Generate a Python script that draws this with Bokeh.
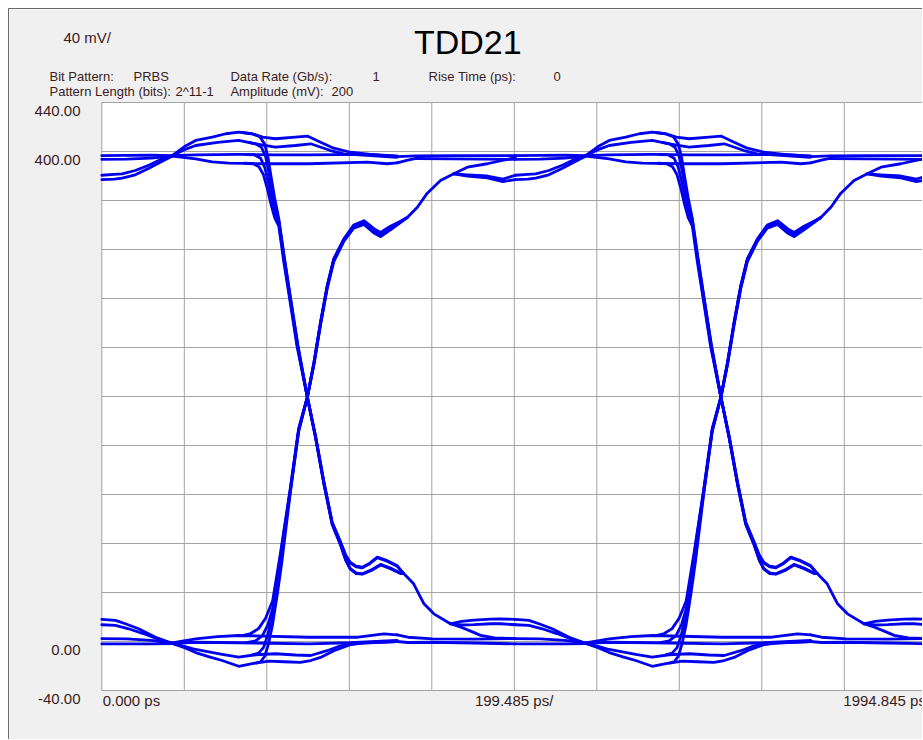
from bokeh.plotting import figure
from bokeh.models import Label
from bokeh.embed import file_html
from bokeh.resources import INLINE

# ---------------- axis definition (instrument settings) ----------------
X_DIV_PS = 199.485
X_FULL_PS = 1994.845
X_GRID_PS = [k * X_DIV_PS for k in range(11)]
Y_MIN, Y_MAX, Y_DIV = -40, 440, 40
Y_GRID_MV = list(range(Y_MIN, Y_MAX + 1, Y_DIV))
Y_LABEL_TICKS = [440, 400, 0, -40]
UI_PS = 1000          # 1 Gb/s -> one bit = 1000 ps
UI_COPIES = [0, 1]    # eye repeats every UI

TITLE = "TDD21"
SCALE_TXT = "40 mV/"
HEADER_ROW1 = [("Bit Pattern:", -126.5), ("PRBS", 76.7), ("Data Rate (Gb/s):", 311.0),
               ("1", 654.5), ("Rise Time (ps):", 790.0), ("0", 1092.0)]
HEADER_ROW2 = [("Pattern Length (bits):", -126.5), ("2^11-1", 178.0),
               ("Amplitude (mV):", 311.0), ("200", 555.4)]
X_LABELS = [("0.000 ps", 2.0, "left"), ("199.485 ps/", 997.0, "center"),
            ("1994.845 ps", 1793.0, "left")]

# ---------------- digitised trace pieces (time ps, mV) within one UI ----------------
# high level, before the knot
top_left_1 = [(0, 396.7), (60, 396.9), (120, 397.0), (170, 396.6)]
top_left_2 = [(0, 393.5), (60, 393.8), (120, 394.6), (170, 396.2)]
top_left_3 = [(0, 380.6), (30, 381.3), (49, 381.8), (81, 384.5), (115, 389.0), (146, 394.0), (170, 396.6)]
top_left_4 = [(0, 377.1), (30, 377.5), (49, 378.3), (81, 381.0), (115, 386.5), (146, 392.0), (170, 396.2)]
# high level, after the knot
top_mid_a = [(170, 396.6), (200, 404.0), (227, 409.0), (267, 411.7), (300, 414.5), (331, 415.8), (364, 414.5),
             (389, 411.7), (420, 410.4), (468, 411.7), (497, 412.6), (529, 407.6), (561, 402.7), (601, 399.4),
             (650, 397.6), (714, 395.9)]
top_mid_b = [(170, 396.6), (200, 401.5), (227, 404.9), (280, 407.5), (331, 409.0), (372, 406.3), (420, 403.5),
             (468, 404.9), (505, 406.3), (553, 400.8), (585, 398.1), (650, 396.7), (714, 395.3)]
top_mid_c = [(170, 396.6), (227, 397.3), (331, 397.6), (420, 397.2), (501, 397.3), (642, 397.6), (714, 396.4)]
top_mid_d = [(170, 396.2), (227, 394.0), (267, 391.5), (307, 390.5), (400, 390.0), (501, 390.0), (642, 391.3),
             (690, 390.0), (714, 390.8)]
top_right_1 = [(714, 395.9), (760, 396.5), (850, 396.7), (1000, 396.7)]
top_right_2 = [(714, 390.8), (740, 393.0), (760, 394.3), (850, 394.0), (1000, 393.5)]

# low level
bot_left_1 = [(0, 18.0), (33, 17.2), (57, 14.5), (89, 10.4), (130, 3.5), (170, -1.5)]
bot_left_2 = [(0, 13.7), (33, 13.1), (65, 10.4), (100, 6.5), (140, 1.5), (170, -1.5)]
bot_left_3 = [(0, 2.4), (60, 2.2), (120, 1.0), (170, -1.2)]
bot_left_4 = [(0, -1.9), (60, -1.9), (120, -1.9), (170, -1.8)]
bot_mid_a = [(170, -1.5), (200, -5.0), (227, -9.0), (260, -12.5), (291, -15.5), (331, -20.2), (364, -18.0),
             (404, -16.0), (440, -16.5), (480, -17.0), (505, -15.5), (529, -13.0), (561, -7.5), (601, -2.5),
             (634, -1.0), (714, 0.0)]
bot_mid_b = [(170, -1.5), (200, -4.0), (227, -6.5), (291, -10.5), (331, -12.8), (372, -10.8), (420, -10.0),
             (468, -11.0), (505, -11.4), (545, -7.5), (577, -3.5), (620, -1.5), (714, 0.0)]
bot_mid_c = [(170, -1.5), (227, -0.6), (331, -1.0), (501, -1.9), (600, -1.0), (714, 1.0)]
bot_mid_d = [(170, -1.2), (227, 2.2), (280, 4.0), (331, 4.9), (501, 3.5), (620, 3.5), (682, 6.3), (714, 5.5)]
bot_right_1 = [(714, 5.5), (740, 3.5), (800, 2.2), (900, 2.0), (1000, 2.4)]
bot_right_2 = [(714, 0.0), (740, -0.8), (800, -0.6), (900, -1.2), (1000, -1.9)]

# falling edges
fall_a = [(340, 415.5), (364, 414.3), (382, 412.0), (394, 406.0), (402, 395.0), (410, 378.0), (418, 362.0),
          (428, 345.0), (442, 312.0), (458, 277.0), (474, 242.0), (497, 199.5), (517, 167.5), (537, 130.5),
          (557, 97.5), (577, 81.5), (590, 70.5), (601, 64.5), (615, 61.5), (630, 60.7), (648, 64.0),
          (666, 68.9), (690, 66.0), (714, 62.0), (730, 55.5)]
fall_b = [(355, 407.5), (372, 406.3), (386, 403.5), (396, 396.0), (404, 383.0), (412, 368.0), (421, 354.0),
          (428, 343.5), (442, 311.0), (458, 276.0), (474, 241.5), (497, 199.5), (517, 166.5), (537, 129.0),
          (557, 96.0), (577, 79.5), (590, 66.5), (601, 59.5), (615, 56.0), (630, 55.3), (652, 58.5),
          (674, 63.0), (698, 60.0), (722, 56.0), (730, 55.5)]
fall_c = [(350, 397.5), (370, 397.2), (384, 394.5), (394, 387.0), (402, 376.0), (411, 362.0), (420, 350.0),
          (428, 342.0), (441, 311.0), (457, 276.0), (473, 241.5), (497, 199.5), (517, 167.0), (537, 130.0),
          (557, 97.0), (577, 81.0), (590, 70.0), (601, 64.0), (615, 61.0), (630, 60.2), (648, 63.5),
          (666, 68.5), (690, 65.5), (714, 61.5), (730, 55.5)]
fall_d = [(345, 390.4), (366, 390.0), (380, 387.5), (391, 381.0), (400, 370.0), (409, 357.0), (418, 346.0),
          (428, 339.0), (440, 310.0), (456, 276.0), (472, 241.0), (497, 199.5), (517, 166.0), (537, 128.5),
          (557, 95.5), (577, 79.0), (590, 66.0), (601, 59.0), (615, 55.5), (630, 55.0), (652, 58.0),
          (674, 62.5), (698, 59.5), (722, 55.5), (730, 55.5)]
fall_tail = [(730, 55.5), (754, 47.1), (779, 30.8), (803, 22.6), (843, 14.5)]
fall_end_1 = [(843, 14.5), (870, 16.5), (900, 17.5), (940, 18.3), (964, 18.5), (1000, 18.0)]
fall_end_2 = [(843, 14.5), (870, 13.5), (900, 13.8), (940, 14.5), (964, 14.5), (1000, 13.7)]
fall_end_3 = [(843, 14.5), (870, 11.5), (892, 8.5), (916, 5.0), (950, 3.0), (1000, 2.4)]

# rising edges
rise_a = [(374, -17.5), (384, -16.5), (394, -12.0), (403, -2.0), (413, 14.0), (425, 40.0), (435, 64.0),
          (456, 122.0), (476, 171.5), (497, 199.5), (513, 228.0), (529, 261.0), (545, 290.5), (561, 312.5),
          (585, 328.5), (609, 340.0), (634, 343.5), (658, 337.0), (674, 334.0), (698, 339.0), (722, 343.0),
          (738, 346.0)]
rise_b = [(364, -10.8), (379, -9.5), (391, -5.0), (401, 5.0), (410, 18.0), (420, 38.0), (432, 67.5),
          (456, 123.0), (476, 172.0), (497, 199.5), (513, 227.5), (529, 260.5), (545, 290.0), (561, 312.0),
          (585, 328.0), (609, 339.0), (634, 342.5), (658, 336.0), (674, 333.0), (698, 338.0), (722, 342.5),
          (738, 346.0)]
rise_c = [(350, -1.0), (372, 0.5), (389, 5.0), (402, 14.0), (415, 29.0), (432, 70.0), (456, 124.5),
          (476, 173.0), (497, 199.5), (513, 227.0), (529, 259.6), (545, 289.2), (561, 311.5), (585, 327.5),
          (609, 338.0), (634, 341.0), (658, 334.0), (674, 331.0), (698, 337.0), (722, 342.3), (738, 346.0)]
rise_d = [(340, 4.9), (360, 6.5), (379, 10.5), (396, 19.0), (413, 33.0), (432, 72.0), (456, 125.5),
          (476, 174.0), (497, 199.5), (513, 226.0), (529, 258.5), (545, 288.0), (561, 310.0), (585, 326.5),
          (609, 337.5), (634, 340.5), (658, 333.5), (674, 330.5), (698, 336.0), (722, 342.0), (738, 346.0)]
rise_tail = [(738, 346.0), (763, 354.5), (787, 366.0), (819, 376.3), (851, 381.8)]
rise_end_1 = [(851, 381.8), (884, 387.2), (932, 390.0), (980, 393.5), (1000, 395.1)]
rise_end_2 = [(851, 381.8), (884, 381.0), (932, 380.0), (970, 377.5), (1000, 380.6)]
rise_end_3 = [(851, 381.8), (884, 380.0), (932, 378.5), (970, 375.5), (1000, 377.1)]

PIECES = [top_left_1, top_left_2, top_left_3, top_left_4, top_mid_a, top_mid_b, top_mid_c, top_mid_d,
          top_right_1, top_right_2, bot_left_1, bot_left_2, bot_left_3, bot_left_4, bot_mid_a, bot_mid_b,
          bot_mid_c, bot_mid_d, bot_right_1, bot_right_2, fall_a, fall_b, fall_c, fall_d, fall_tail,
          fall_end_1, fall_end_2, fall_end_3, rise_a, rise_b, rise_c, rise_d, rise_tail, rise_end_1,
          rise_end_2, rise_end_3]

# ---------------- styling / geometry ----------------
BG = "#f0f0f0"
TRACE = "#0000ee"
GRID = "#a3a3a3"
TXT = "#3a1c1c"
FONT = "Liberation Sans"
W, H = 914, 731
PS_PER_PX = 2.418
MV_PER_PX = 0.8163
LEFT_PX, TOP_PX = 92.3, 93.0          # plot-area origin inside the canvas

x0 = -LEFT_PX * PS_PER_PX
x1 = (W - LEFT_PX) * PS_PER_PX
y1 = Y_MAX + TOP_PX * MV_PER_PX
y0 = Y_MAX - (H - TOP_PX) * MV_PER_PX

p = figure(width=W, height=H, x_range=(x0, x1), y_range=(y0, y1),
           output_backend="svg", toolbar_location=None, title=None,
           x_axis_location=None, y_axis_location=None,
           min_border=0, min_border_left=0, min_border_right=0, min_border_top=0, min_border_bottom=0)
p.background_fill_color = BG
p.border_fill_color = BG
p.outline_line_color = None
p.grid.visible = False
p.margin = (8, 0, 0, 8)
p.styles = {"border-left": "1px solid #6a6a6a", "border-top": "1px solid #6a6a6a"}

# white plot area
p.quad(left=[0], right=[X_FULL_PS], bottom=[Y_MIN], top=[Y_MAX], fill_color="white", line_color=None)
# graticule
p.segment(x0=X_GRID_PS, x1=X_GRID_PS, y0=[Y_MIN] * len(X_GRID_PS), y1=[Y_MAX] * len(X_GRID_PS),
          line_color=GRID, line_width=1)
p.segment(x0=[0] * len(Y_GRID_MV), x1=[X_FULL_PS] * len(Y_GRID_MV), y0=Y_GRID_MV, y1=Y_GRID_MV,
          line_color=GRID, line_width=1)

xs, ys = [], []
for k in UI_COPIES:
    for pc in PIECES:
        xs.append([t + k * UI_PS for t, v in pc])
        ys.append([v for t, v in pc])
p.multi_line(xs, ys, line_color=TRACE, line_width=2.8, line_join="round", line_cap="round")

def add_label(x, y, text, size, align="left", baseline="middle", color=TXT):
    p.add_layout(Label(x=x, y=y, text=text, text_font=FONT, text_font_size=size,
                       text_color=color, text_align=align, text_baseline=baseline))

add_label(885, 489, TITLE, "34px", align="center", color="#000000")
add_label(-92.6, 493, SCALE_TXT, "15px")
for txt, x in HEADER_ROW1:
    add_label(x, 461.2, txt, "13px")
for txt, x in HEADER_ROW2:
    add_label(x, 449.0, txt, "13px")
for v in Y_LABEL_TICKS:
    add_label(-51.5, v - 6.9, f"{v:.2f}", "15px", align="right", baseline="middle")
for txt, x, al in X_LABELS:
    add_label(x, Y_MIN - 8.2, txt, "15px", align=al, baseline="middle")

open("out.html", "w").write(file_html(p, INLINE))
